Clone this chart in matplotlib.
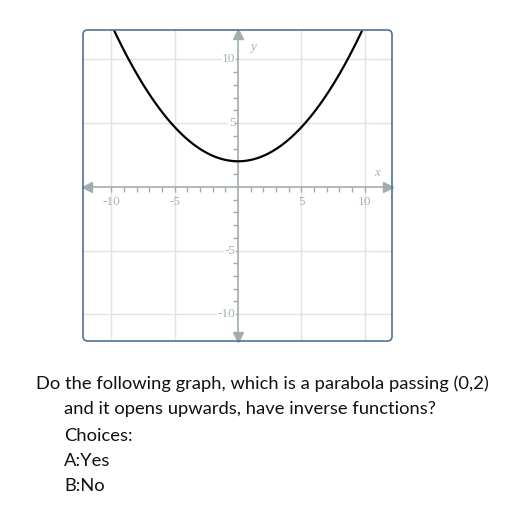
import numpy as np
import matplotlib
matplotlib.use("Agg")
import matplotlib.pyplot as plt
from matplotlib.patches import FancyBboxPatch

# parabola: y = a*x^2 + c, vertex at (0, 2)
a_coef = 0.107
c_coef = 2.0
x_lim = (-12.25, 12.15)
y_lim = (-12.1, 12.3)
grid_vals = [-10, -5, 5, 10]
minor_ticks = [t for t in range(-10, 11) if t != 0]
tick_labels = ["-10", "-5", "5", "10"]

question = ["Do the following graph, which is a parabola passing (0,2)",
            "and it opens upwards, have inverse functions?",
            "Choices:",
            "A:Yes",
            "B:No"]

axis_col = "#a3adad"
grid_col = "#e0e4e4"
label_col = "#a9b2b2"

fig = plt.figure(figsize=(5.12, 5.12), dpi=100)
ax = fig.add_axes([83 / 512, 1 - 341 / 512, 309 / 512, 311 / 512])
ax.set_xlim(*x_lim)
ax.set_ylim(*y_lim)
ax.set_xticks([])
ax.set_yticks([])
for s in ax.spines.values():
    s.set_visible(False)

# rounded frame
frame = FancyBboxPatch((0, 0), 1, 1, boxstyle="round,pad=0,rounding_size=0.015",
                       transform=ax.transAxes, fill=False, edgecolor="#4f6f99",
                       linewidth=1.2, clip_on=False, zorder=5)
ax.add_patch(frame)

# grid
for g in grid_vals:
    ax.axvline(g, color=grid_col, lw=1, zorder=0)
    ax.axhline(g, color=grid_col, lw=1, zorder=0)

# axes with arrows
ax.plot([x_lim[0] + 0.3, x_lim[1] - 0.3], [0, 0], color=axis_col, lw=1.2, zorder=2)
ax.plot([0, 0], [y_lim[0] + 0.3, y_lim[1] - 0.3], color=axis_col, lw=1.2, zorder=2)
ax.plot(x_lim[0] + 0.35, 0, marker="<", color=axis_col, ms=7, zorder=3, clip_on=False)
ax.plot(x_lim[1] - 0.35, 0, marker=">", color=axis_col, ms=7, zorder=3, clip_on=False)
ax.plot(0, y_lim[1] - 0.35, marker="^", color=axis_col, ms=7, zorder=3, clip_on=False)
ax.plot(0, y_lim[0] + 0.35, marker="v", color=axis_col, ms=7, zorder=3, clip_on=False)

# small ticks
ax.vlines(minor_ticks, -0.4, 0, color=axis_col, lw=1, zorder=2)
ax.hlines(minor_ticks, -0.4, 0, color=axis_col, lw=1, zorder=2)

# tick labels
for g, t in zip(grid_vals, tick_labels):
    ax.text(g, -0.7, t, ha="center", va="top", fontsize=9.5, color=label_col,
            family="Liberation Serif", zorder=4)
    ax.text(-0.2, g, t, ha="right", va="center", fontsize=9.5, color=label_col,
            family="Liberation Serif", zorder=4,
            bbox=dict(facecolor="white", edgecolor="none", pad=0.5))

ax.text(11.0, 0.6, "x", style="italic", fontsize=9.5, color=label_col,
        family="Liberation Serif", ha="center", va="bottom")
ax.text(1.2, 11.0, "y", style="italic", fontsize=9.5, color=label_col,
        family="Liberation Serif", ha="center", va="center")

# parabola
xs = np.linspace(-11, 11, 400)
ax.plot(xs, a_coef * xs ** 2 + c_coef, color="black", lw=1.6, zorder=4)

# question text
line_y = [384, 409, 436, 461, 486]
line_x = [36, 64, 64, 64, 64]
for s, xp, yp in zip(question, line_x, line_y):
    fig.text(xp / 512, 1 - yp / 512, s, ha="left", va="center",
             fontsize=13.2, family="Lato", color="#111111")

fig.savefig("out.png", dpi=100)
